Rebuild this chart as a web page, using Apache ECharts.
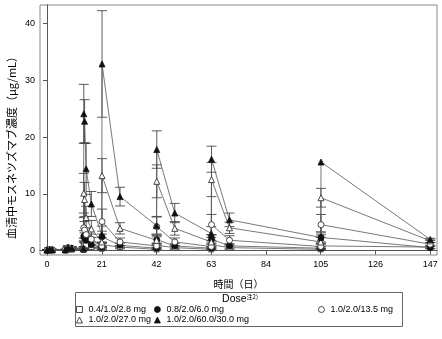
<!DOCTYPE html>
<html>
<head>
<meta charset="utf-8">
<script src="https://cdn.jsdelivr.net/npm/echarts@6/dist/echarts.min.js"></script>
<style>
  html, body { margin: 0; padding: 0; background: #fff; }
  #chart { width: 442px; height: 339px; }
</style>
</head>
<body>
<div id="chart"></div>
<script>
// Sampling days (0 = cycle 1 day 1)
const DAYS = [0, 1, 2, 7, 8, 9.5, 14, 14.1, 14.4, 15, 17, 21, 21.1, 28, 42, 42.1, 49, 63, 63.1, 70, 105, 105.1, 147];

const DOSE_NAMES = [
  '0.4/1.0/2.8 mg',
  '0.8/2.0/6.0 mg',
  '1.0/2.0/13.5 mg',
  '1.0/2.0/27.0 mg',
  '1.0/2.0/60.0/30.0 mg'
];

// Mean serum concentration (µg/mL) per dose group
const MEAN_0 = [0.02, 0.05, 0.04, 0.05, 0.2, 0.15, 0.1, 1.2, 1.0, 0.9, 0.6, 0.3, 1.0, 0.6, 0.2, 0.9, 0.5, 0.2, 1.0, 0.5, 0.2, 0.8, 0.6];
const MEAN_1 = [0.05, 0.1, 0.08, 0.1, 0.4, 0.3, 0.2, 2.5, 2.2, 1.8, 1.0, 0.5, 2.4, 0.9, 0.4, 1.9, 0.8, 0.4, 2.0, 0.8, 0.4, 2.3, 0.5];
const MEAN_2 = [0.08, 0.15, 0.1, 0.15, 0.5, 0.4, 0.2, 4.0, 3.6, 2.8, 2.0, 0.8, 5.1, 1.5, 0.8, 4.2, 1.5, 0.7, 4.55, 1.8, 0.7, 4.55, 1.1];
const MEAN_3 = [0.08, 0.2, 0.15, 0.15, 0.5, 0.4, 0.3, 10.1, 9.0, 5.8, 3.8, 1.5, 13.2, 3.9, 1.8, 12.2, 3.9, 1.5, 12.5, 4.0, 1.5, 9.3, 1.7];
const MEAN_4 = [0.1, 0.15, 0.12, 0.1, 0.5, 0.45, 0.4, 24.1, 22.8, 14.4, 8.2, 2.8, 32.9, 9.5, 4.4, 17.8, 6.6, 3.0, 16.1, 5.4, 2.3, 15.6, 1.95];

// Standard deviations (0 = single subject, no bar)
const SD_0 = [0.02, 0.03, 0.03, 0.03, 0.1, 0.08, 0.05, 0.5, 0.4, 0.4, 0.3, 0.2, 0.5, 0.3, 0.1, 0.4, 0.3, 0.1, 0.5, 0.3, 0.1, 0.4, 0.3];
const SD_1 = [0.03, 0.05, 0.05, 0.05, 0.2, 0.15, 0.1, 1.0, 0.9, 0.8, 0.5, 0.3, 1.0, 0.4, 0.2, 0.8, 0.4, 0.2, 0.8, 0.4, 0.2, 0.8, 0.2];
const SD_2 = [0.05, 0.08, 0.05, 0.08, 0.25, 0.2, 0.1, 1.8, 1.5, 1.2, 0.9, 0.4, 2.2, 0.7, 0.4, 1.8, 0.7, 0.4, 1.8, 0.8, 0.4, 1.8, 0.3];
const SD_3 = [0.05, 0.1, 0.08, 0.08, 0.3, 0.2, 0.15, 3.5, 3.0, 2.0, 1.5, 0.8, 3.0, 1.0, 0.9, 2.9, 1.2, 0.8, 3.0, 1.0, 0.8, 1.65, 0.3];
const SD_4 = [0.05, 0.1, 0.08, 0.05, 0.3, 0.25, 0.2, 5.2, 3.8, 4.5, 2.2, 1.5, 9.4, 1.65, 1.5, 3.3, 1.7, 1.2, 2.3, 1.2, 1.0, 0, 0.2];

const X_TICKS = [0, 21, 42, 63, 84, 105, 126, 147];
const Y_TICKS = [0, 10, 20, 30, 40];

const MEANS = [MEAN_0, MEAN_1, MEAN_2, MEAN_3, MEAN_4];
const SDS = [SD_0, SD_1, SD_2, SD_3, SD_4];

const NUM_FONT = '"Liberation Sans", Arial, sans-serif';
const JP_FONT = '"Noto Sans CJK JP", sans-serif';

// marker looks: [symbol, filled]
const MARKERS = [['rect', false], ['circle', true], ['circle', false], ['triangle', false], ['triangle', true]];

function markerStyle(filled) {
  return filled
    ? { color: '#111', borderColor: '#111', borderWidth: 0.8 }
    : { color: '#fff', borderColor: '#333', borderWidth: 0.9 };
}

const series = [];

// error bars first, so markers sit on top
MEANS.forEach((m, s) => {
  series.push({
    type: 'custom',
    name: DOSE_NAMES[s] + ' SD',
    silent: true,
    z: 2,
    data: DAYS.map((d, i) => [d, m[i] - SDS[s][i], m[i] + SDS[s][i]]),
    renderItem: function (params, api) {
      const x = api.value(0);
      if (api.value(2) - api.value(1) <= 0) return null;
      const lo = api.coord([x, api.value(1)]);
      const hi = api.coord([x, api.value(2)]);
      const w = 5;
      const style = { stroke: '#333', lineWidth: 0.8 };
      return {
        type: 'group',
        children: [
          { type: 'line', shape: { x1: hi[0], y1: hi[1], x2: lo[0], y2: lo[1] }, style },
          { type: 'line', shape: { x1: hi[0] - w, y1: hi[1], x2: hi[0] + w, y2: hi[1] }, style },
          { type: 'line', shape: { x1: lo[0] - w, y1: lo[1], x2: lo[0] + w, y2: lo[1] }, style }
        ]
      };
    }
  });
});

MEANS.forEach((m, s) => {
  series.push({
    type: 'line',
    name: DOSE_NAMES[s],
    z: 3,
    data: DAYS.map((d, i) => [d, m[i]]),
    symbol: MARKERS[s][0],
    symbolSize: MARKERS[s][0] === 'rect' ? 5 : 6,
    showAllSymbol: true,
    lineStyle: { color: '#555', width: 0.8 },
    itemStyle: markerStyle(MARKERS[s][1]),
    emphasis: { disabled: true },
    animation: false
  });
});

// legend entries placed in a 3-column / 2-row box
const LEGEND_POS = [[76, 305], [154, 305], [318, 305], [76, 315.5], [154, 315.5]];
const legends = DOSE_NAMES.map((name, s) => ({
  data: [{
    name: name,
    icon: MARKERS[s][0],
    itemStyle: markerStyle(MARKERS[s][1])
  }],
  left: LEGEND_POS[s][0],
  top: LEGEND_POS[s][1],
  padding: 0,
  itemWidth: 6,
  itemHeight: 6,
  itemGap: 0,
  selectedMode: false,
  textStyle: { fontSize: 9, fontFamily: NUM_FONT, color: '#000', padding: [0, 0, 0, 1] }
}));

const chart = echarts.init(document.getElementById('chart'), null, { renderer: 'canvas' });
chart.setOption({
  animation: false,
  backgroundColor: '#fff',
  grid: {
    left: 40, right: 5, top: 5, bottom: 84,
    show: true, borderColor: '#888', borderWidth: 1
  },
  xAxis: {
    type: 'value',
    min: -2.7,
    max: 149.6,
    name: '時間（日）',
    nameLocation: 'middle',
    nameGap: 24,
    nameTextStyle: { fontFamily: JP_FONT, fontSize: 10, color: '#000' },
    axisLine: { show: true, lineStyle: { color: '#555', width: 1 } },
    axisTick: { show: true, length: 4, lineStyle: { color: '#555' }, customValues: X_TICKS },
    axisLabel: { customValues: X_TICKS, fontFamily: NUM_FONT, fontSize: 9, color: '#000', margin: 5 },
    splitLine: { show: false }
  },
  yAxis: {
    type: 'value',
    min: -0.8,
    max: 43.3,
    axisLine: { show: true, lineStyle: { color: '#555', width: 1 } },
    axisTick: { show: true, length: 4, lineStyle: { color: '#555' }, customValues: Y_TICKS },
    axisLabel: { customValues: Y_TICKS, fontFamily: NUM_FONT, fontSize: 9, color: '#000', margin: 5 },
    splitLine: { show: false }
  },
  legend: legends,
  graphic: [
    {
      // y-axis title
      type: 'text',
      x: 12,
      y: 145,
      rotation: Math.PI / 2,
      style: {
        text: '血清中モスネツズマブ濃度（μg/mL）',
        fontFamily: JP_FONT,
        fontSize: 11,
        fill: '#000',
        align: 'center',
        verticalAlign: 'middle'
      },
      silent: true
    },
    {
      type: 'rect',
      shape: { x: 75.5, y: 292.5, width: 327, height: 34 },
      style: { fill: 'none', stroke: '#666', lineWidth: 1 },
      silent: true
    },
    {
      type: 'text',
      x: 240,
      y: 299,
      style: {
        text: 'Dose{sup|注2)}',
        fontFamily: NUM_FONT,
        fontSize: 10.5,
        fill: '#000',
        align: 'center',
        verticalAlign: 'middle',
        rich: {
          sup: { fontSize: 6, fontFamily: JP_FONT, verticalAlign: 'top', padding: [0, 0, 5, 0], fill: '#000' }
        }
      },
      silent: true
    }
  ],
  series: series
});
</script>
</body>
</html>
